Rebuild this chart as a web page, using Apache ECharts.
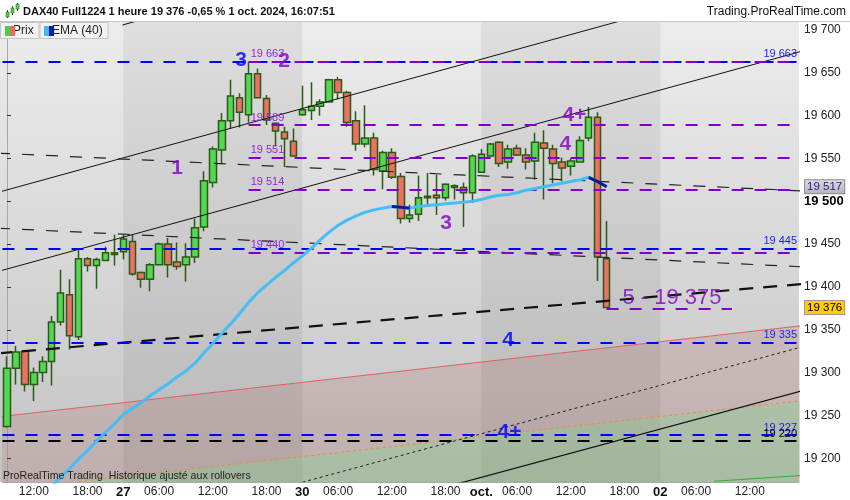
<!DOCTYPE html>
<html><head><meta charset="utf-8">
<script src="https://cdn.jsdelivr.net/npm/echarts@6/dist/echarts.min.js"></script>
<style>html,body{margin:0;padding:0;background:#fff}#c{width:850px;height:500px}</style>
</head><body><div id="c"></div>
<script>
// ---------- DATA ----------
const dayNames  = ['26', '27', '30', 'oct.', '02'];
const dayFirstHour = [9, 2, 2, 2, 2];
const dayLastHour  = [21, 21, 21, 21, 17];

const open  = [19237,19305,19325,19286,19300,19313,19359,19391,19342,19433,19425,19431,19440,
  19441,19453,19417,19409,19426,19450,19429,19426,19435,19470,19522,19560,19594,19621,19601,19649,19620,19591,19581,19570,
  19601,19606,19611,19616,19642,19627,19594,19567,19574,19535,19557,19529,19480,19485,19504,19507,19504,19516,19516,19510,
  19534,19553,19569,19546,19562,19554,19547,19568,19561,19546,19541,19546,19574,19598,19433];
const close = [19305,19324,19286,19300,19313,19359,19393,19343,19433,19425,19432,19440,19438,
  19456,19415,19409,19426,19450,19426,19424,19435,19469,19524,19561,19594,19623,19604,19649,19621,19595,19582,19573,19553,
  19607,19611,19616,19642,19627,19592,19567,19574,19537,19557,19528,19480,19484,19504,19506,19504,19520,19518,19510,19553,
  19555,19567,19544,19561,19554,19546,19569,19562,19544,19539,19547,19571,19598,19435,19376];
const low   = [19236,19286,19278,19267,19289,19285,19355,19327,19338,19418,19398,19430,19425,
  19432,19413,19399,19395,19425,19411,19420,19406,19428,19465,19516,19544,19585,19586,19592,19620,19589,19564,19540,19552,
  19600,19595,19600,19615,19619,19587,19559,19563,19530,19514,19526,19474,19475,19477,19496,19484,19501,19502,19470,19498,
  19533,19552,19540,19538,19553,19537,19525,19502,19521,19523,19530,19545,19570,19407,19375];
const high  = [19319,19331,19326,19306,19319,19366,19420,19409,19443,19435,19434,19447,19461,
  19461,19461,19418,19428,19452,19457,19452,19451,19480,19535,19564,19603,19642,19626,19663,19655,19624,19592,19587,19585,
  19635,19639,19619,19643,19645,19629,19605,19612,19580,19559,19562,19533,19496,19530,19533,19531,19521,19520,19522,19555,
  19561,19568,19570,19566,19566,19562,19580,19583,19566,19551,19550,19576,19610,19604,19477];
const ema40 = [null,null,null,null,null,19167,19178,19188,19199,19209,19220,19230,19240,
  19251,19258,19265,19273,19280,19287,19295,19302,19311,19323,19334,19346,19357,19369,19382,19393,19402,19411,19419,19428,
  19436,19445,19455,19464,19472,19478,19483,19487,19490,19492,19494,19493,19492,19494,19495,19496,19497,19498,19499,19500,
  19502,19505,19507,19508,19510,19513,19515,19517,19519,19521,19523,19525,19528,19523,19517];

const yTicks = [19200,19250,19300,19350,19400,19450,19500,19550,19600,19650,19700];
const blueLevels   = [19663, 19445, 19335, 19227];
const blackLevels  = [19220];
const purpleLevels = [19663, 19589, 19551, 19514, 19440];
const purpleFrom   = 27;
const targetLevel  = 19375;
const targetRange  = [67, 81];
const lastPrice = 19376;
const emaLast   = 19517;
const dayBands  = [[13, 33], [53, 73]];

// trend lines: [barIndex, price] pairs
const lineA = [[-1, 19510.4], [70, 19714.8]];
const lineB = [[-1, 19418.1], [89, 19675.7]];
const lineC = [[12.9, 19705.8], [14.5, 19710.4]];
const lineD = [[50, 19169.3], [89, 19279.2]];
const lineE = [[-1, 19556.2], [89, 19512.0]];
const lineF = [[-1, 19468.6], [89, 19423.4]];
const lineG = [[-1, 19322.4], [89, 19403.6]];
const lineI = [[33, 19172.0], [89, 19330.5]];
const lineJ = [[8, 19172.7], [89, 19267.5]];
const lineK = [[-1, 19248.3], [89, 19355.0]];
const lineGreen = [[79, 19173.2], [89, 19180.0]];

const blueNotes   = [[26.15, 19665, '3'], [56.0, 19338, '4'], [56.15, 19231, '4+']];
const purpleNotes = [[30.95, 19663, '2'], [19.0, 19539, '1'], [49.06, 19475, '3'], [63.4, 19600, '4+'], [62.4, 19567, '4']];
const targetNote  = [[74.3, 19387, '5 - 19 375']];

// ---------- BUILD ----------
const categories = [];
dayNames.forEach((d, i) => { for (let h = dayFirstHour[i]; h <= dayLastHour[i]; h++) categories.push(d + '|' + h); });
const candles = open.map((o, i) => [o, close[i], low[i], high[i]]);
const emaDown = ema40.map((v, i) => {
  if (v == null) return null;
  const prevDown = i > 0 && ema40[i-1] != null && v < ema40[i-1];
  const nextDown = i + 1 < ema40.length && ema40[i+1] != null && ema40[i+1] < v;
  return (prevDown || nextDown) ? v : null;
});
const fmt = v => String(v).replace(/\B(?=(\d{3})+(?!\d))/g, ' ');
const FONT = "'Liberation Sans', Arial, sans-serif";
const XL = -0.5, XR = 88.5;
const BLUE = '#0000ff', PURPLE = '#7f00cc';

function hLevel(x1, x2, v, color, width, text, pos, labelColor) {
  return [{ coord: [x1, v], lineStyle: { color, width, type: [12, 11] },
            label: text ? { show: true, formatter: text, position: pos, color: labelColor || color, fontSize: 11, fontFamily: FONT, distance: 2 } : { show: false } },
          { coord: [x2, v] }];
}
const levelData = [];
blueLevels.forEach(v => levelData.push(hLevel(XL, XR, v, BLUE, 2, fmt(v), 'insideEndTop', '#1a1aff')));
blackLevels.forEach(v => levelData.push(hLevel(XL, XR, v, '#000', 2, fmt(v), 'insideEndTop', '#000')));
purpleLevels.forEach(v => levelData.push(hLevel(purpleFrom, XR, v, PURPLE, 2, fmt(v), 'insideStartTop', '#8a2ad0')));
levelData.push(hLevel(targetRange[0], targetRange[1], targetLevel, PURPLE, 2, '', '', ''));
levelData.push([{ coord: [88.3, emaLast], lineStyle: { color: 'rgba(0,0,0,0)', width: 0 },
  label: { show: true, position: 'end', distance: 6, formatter: fmt(emaLast), color: '#1a1aa8', fontSize: 11.5, fontFamily: FONT,
    padding: [1, 2, 0, 2], borderColor: '#8a8a8a', borderWidth: 1,
    backgroundColor: { type: 'linear', x: 0, y: 0, x2: 0, y2: 1, colorStops: [{ offset: 0, color: '#dedede' }, { offset: 1, color: '#b4b4b4' }] } } },
  { coord: [XR, emaLast] }]);
levelData.push([{ coord: [88.3, lastPrice], lineStyle: { color: 'rgba(0,0,0,0)', width: 0 },
  label: { show: true, position: 'end', distance: 6, formatter: fmt(lastPrice), color: '#000', fontSize: 11.5, fontFamily: FONT,
    padding: [1, 2, 0, 2], borderColor: '#9a9a9a', borderWidth: 1, backgroundColor: '#ffcc00' } },
  { coord: [XR, lastPrice] }]);

function tline(data, color, width, type, z) {
  return { type: 'line', xAxisIndex: 1, data, symbol: 'none', silent: true, z: z || 3,
           lineStyle: { color, width, type: type || 'solid' } };
}
function notes(data, color, size, weight) {
  return { type: 'scatter', xAxisIndex: 1, data, symbolSize: 0, z: 8, silent: true,
    label: { show: true, position: 'inside', formatter: p => p.value[2], color, fontSize: size, fontWeight: weight, fontFamily: FONT } };
}

const chart = echarts.init(document.getElementById('c'), null, { renderer: 'canvas' });
chart.setOption({
  animation: false,
  backgroundColor: '#ffffff',
  textStyle: { fontFamily: FONT },
  grid: { left: 2.5, top: 22, width: 796.55, height: 460, containLabel: false },
  xAxis: [
    { type: 'category', data: categories, boundaryGap: true,
      axisLine: { show: true, lineStyle: { color: '#a8a8a8' } }, axisTick: { show: false }, splitLine: { show: false },
      axisLabel: { margin: 4, fontSize: 12, color: '#222', hideOverlap: false,
        interval: (i, v) => { const h = +v.split('|')[1]; return h === 2 || h === 6 || h === 12 || h === 18; },
        formatter: (v) => { const [d, hs] = v.split('|'); const h = +hs;
          if (h === 2) return '{d|' + d + '}';
          if (h === 6 || h === 12 || h === 18) return (h < 10 ? '0' + h : h) + ':00';
          return ''; },
        rich: { d: { fontWeight: 'bold', fontSize: 13, color: '#111', fontFamily: FONT } } } },
    { type: 'value', min: XL, max: XR, show: false }
  ],
  yAxis: { type: 'value', position: 'right', min: 19172.3, max: 19709.3, scale: true,
    axisLine: { show: true, lineStyle: { color: '#a8a8a8' } },
    axisTick: { show: true, length: 4, lineStyle: { color: '#333' }, customValues: yTicks },
    splitLine: { show: false },
    axisLabel: { margin: 5, fontSize: 12, color: '#222', customValues: yTicks,
      formatter: v => v === 19500 ? '{b|' + fmt(v) + '}' : fmt(v),
      rich: { b: { fontWeight: 'bold', fontSize: 13, color: '#000', fontFamily: FONT } } } },
  graphic: [
    { type: 'rect', z: -10, silent: true, shape: { x: 0, y: 22, width: 799, height: 460 },
      style: { fill: { type: 'linear', x: 0, y: 0, x2: 0, y2: 1, colorStops: [{ offset: 0, color: '#ececec' }, { offset: 1, color: '#c3c3c3' }] } } },
    { type: 'line', z: 50, silent: true, shape: { x1: 0, y1: 21.5, x2: 850, y2: 21.5 }, style: { stroke: '#c8c8c8', lineWidth: 1 } },
    // header icon
    { type: 'line', z: 50, shape: { x1: 7.5, y1: 10, x2: 7.5, y2: 18 }, style: { stroke: '#2b5a16', lineWidth: 1 } },
    { type: 'rect', z: 51, shape: { x: 6, y: 12, width: 3, height: 5 }, style: { fill: '#4cd44c', stroke: '#2b5a16', lineWidth: 0.5 } },
    { type: 'line', z: 50, shape: { x1: 12.5, y1: 6, x2: 12.5, y2: 15 }, style: { stroke: '#2b5a16', lineWidth: 1 } },
    { type: 'rect', z: 51, shape: { x: 11, y: 8, width: 3, height: 5 }, style: { fill: '#4cd44c', stroke: '#2b5a16', lineWidth: 0.5 } },
    { type: 'line', z: 50, shape: { x1: 17.5, y1: 3, x2: 17.5, y2: 11 }, style: { stroke: '#2b5a16', lineWidth: 1 } },
    { type: 'rect', z: 51, shape: { x: 16, y: 4, width: 3, height: 5 }, style: { fill: '#4cd44c', stroke: '#2b5a16', lineWidth: 0.5 } },
    { type: 'text', z: 50, x: 23, y: 12, style: { text: 'DAX40 Full1224 1 heure 19 376 -0,65 % 1 oct. 2024, 16:07:51', fill: '#111', font: 'bold 11px ' + FONT, verticalAlign: 'middle' } },
    { type: 'text', z: 50, x: 846, y: 12, style: { text: 'Trading.ProRealTime.com', fill: '#111', font: '12px ' + FONT, align: 'right', verticalAlign: 'middle' } },
    // legend
    { type: 'rect', z: 50, shape: { x: 0.5, y: 22.5, width: 38.5, height: 16 }, style: { fill: '#f2f2f2', stroke: '#c4c4c4', lineWidth: 1 } },
    { type: 'text', z: 51, x: 13, y: 31, style: { text: 'Prix', fill: '#222', font: '12px ' + FONT, verticalAlign: 'middle' } },
    { type: 'rect', z: 52, shape: { x: 5, y: 26, width: 5, height: 10 }, style: { fill: '#4ccf4c' } },
    { type: 'rect', z: 52, shape: { x: 10, y: 26, width: 5, height: 10 }, style: { fill: '#e86a60' } },
    { type: 'rect', z: 50, shape: { x: 40, y: 22.5, width: 68, height: 16 }, style: { fill: '#f2f2f2', stroke: '#c4c4c4', lineWidth: 1 } },
    { type: 'text', z: 51, x: 52, y: 31, style: { text: 'EMA (40)', fill: '#222', font: '12px ' + FONT, verticalAlign: 'middle' } },
    { type: 'rect', z: 52, shape: { x: 44, y: 26, width: 5, height: 10 }, style: { fill: '#3fb8f5' } },
    { type: 'rect', z: 52, shape: { x: 49, y: 26, width: 5, height: 10 }, style: { fill: '#0b1fa0' } },
    { type: 'text', z: 50, x: 3, y: 476, style: { text: 'ProRealTime Trading  Historique ajusté aux rollovers', fill: '#222', font: '10.6px ' + FONT, verticalAlign: 'middle' } }
  ],
  series: [
    { type: 'line', xAxisIndex: 1, data: [[-100, 19500]], symbol: 'none', z: 0, silent: true,
      markArea: { silent: true, itemStyle: { color: 'rgba(0,0,0,0.06)' }, data: dayBands.map(([a, b]) => [{ xAxis: a }, { xAxis: b }]) } },
    Object.assign(tline(lineK, '#e06060', 1, 'solid', 1), { areaStyle: { origin: 'start', color: 'rgba(160,50,50,0.2)' } }),
    Object.assign(tline(lineJ, '#f08a3c', 1, [3, 3], 1), { areaStyle: { origin: 'start', color: 'rgba(120,225,140,0.42)' } }),
    { type: 'candlestick', xAxisIndex: 0, data: candles, barWidth: 7, z: 2, silent: true,
      itemStyle: { color: '#52d852', color0: '#ec7064', borderColor: '#2b5a16', borderColor0: '#2b5a16', borderWidth: 1.5 } },
    tline(lineA, '#111', 1), tline(lineB, '#111', 1), tline(lineC, '#111', 1), tline(lineD, '#111', 1.2),
    tline(lineE, '#222', 1.2, [12, 12]), tline(lineF, '#222', 1.2, [12, 12]), tline(lineG, '#111', 2.2, [14, 10]),
    tline(lineI, '#222', 1, [3, 3]), tline(lineGreen, '#30b030', 1),
    { type: 'line', xAxisIndex: 1, data: [[-100, 19500]], symbol: 'none', z: 4, silent: true,
      markLine: { silent: true, symbol: ['none', 'none'], animation: false, data: levelData } },
    { type: 'line', xAxisIndex: 0, data: ema40, symbol: 'none', z: 5, silent: true, connectNulls: false,
      lineStyle: { color: '#45bdf7', width: 3 } },
    { type: 'line', xAxisIndex: 0, data: emaDown, symbol: 'none', z: 6, silent: true, connectNulls: false,
      lineStyle: { color: '#0c1890', width: 3 } },
    notes(blueNotes, '#0000ff', 21, 'bold'),
    notes(purpleNotes, '#8000c8', 21, 'bold'),
    notes(targetNote, '#8000c8', 22, 'normal')
  ]
});
</script></body></html>
